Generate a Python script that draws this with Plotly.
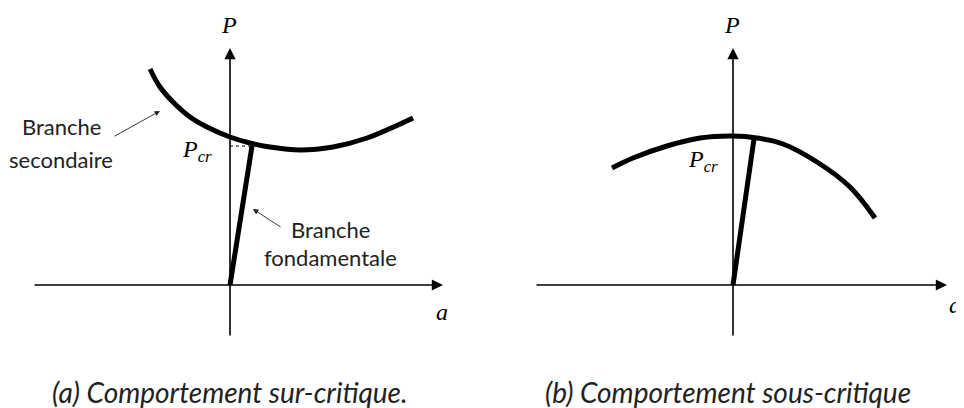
import plotly.graph_objects as go

# =====================
# DATA (a, P) in arbitrary units, origin at axes crossing
# =====================
# (a) sur-critique
sec_a_left = [-8.0, -7.0, -5.7, -4.0, -2.3, 0.0, 2.0, 4.0, 7.0, 10.3, 13.7, 18.3]
sec_P_left = [21.6, 19.8, 18.3, 16.8, 15.8, 14.8, 14.2, 13.8, 13.5, 13.8, 14.7, 16.7]
fund_a_left = [0.0, 2.2]
fund_P_left = [0.0, 13.9]
pcr_left = 13.9

# (b) sous-critique
sec_a_right = [-12.1, -10.0, -6.6, -3.3, 0.0, 2.4, 5.0, 8.4, 11.7, 14.2]
sec_P_right = [11.7, 12.7, 13.9, 14.7, 14.9, 14.7, 14.1, 12.3, 9.8, 6.7]
fund_a_right = [0.0, 2.1]
fund_P_right = [0.0, 14.6]

# axis extents [min, max]
a_axis_left = [-19.7, 21.3]
a_axis_right = [-19.8, 21.4]
P_axis = [-5.2, 23.7]

captions = ["(a) Comportement sur-critique.", "(b) Comportement sous-critique"]

# =====================
# FIGURE
# =====================
fig = go.Figure()
thick = dict(color="black", width=5)

fig.add_trace(go.Scatter(x=sec_a_left, y=sec_P_left, mode="lines", line=dict(shape="spline", **thick),
                         xaxis="x", yaxis="y"))
fig.add_trace(go.Scatter(x=fund_a_left, y=fund_P_left, mode="lines", line=thick, xaxis="x", yaxis="y"))
fig.add_trace(go.Scatter(x=[0, fund_a_left[1] - 0.2], y=[pcr_left, pcr_left], mode="lines",
                         line=dict(color="black", width=1, dash="3px,3px"), xaxis="x", yaxis="y"))

fig.add_trace(go.Scatter(x=sec_a_right, y=sec_P_right, mode="lines", line=dict(shape="spline", **thick),
                         xaxis="x2", yaxis="y2"))
fig.add_trace(go.Scatter(x=fund_a_right, y=fund_P_right, mode="lines", line=thick, xaxis="x2", yaxis="y2"))

serif = dict(family="Liberation Serif", size=24, color="black")
sans = dict(family="Lato", size=22, color="#222")
ann = []


def axis_arrow(xr, yr, x, y, ax, ay):
    return dict(xref=xr, yref=yr, axref=xr, ayref=yr, x=x, y=y, ax=ax, ay=ay, text="",
                showarrow=True, arrowhead=2, arrowsize=1.4, arrowwidth=1.6, arrowcolor="black", standoff=0)


for xr, yr, a_ax, pcr_pos, a_pos in [("x", "y", a_axis_left, (-3.3, 13.4), (21.2, -2.7)),
                                     ("x2", "y2", a_axis_right, (-3.0, 12.4), (22.2, -2.0))]:
    ann.append(axis_arrow(xr, yr, a_ax[1], 0, a_ax[0], 0))
    ann.append(axis_arrow(xr, yr, 0, P_axis[1], 0, P_axis[0]))
    ann.append(dict(xref=xr, yref=yr, x=-0.1, y=26.0, text="<i>P</i>", showarrow=False, font=serif))
    ann.append(dict(xref=xr, yref=yr, x=a_pos[0], y=a_pos[1], text="<i>a</i>", showarrow=False, font=serif))
    ann.append(dict(xref=xr, yref=yr, x=pcr_pos[0], y=pcr_pos[1],
                    text="<i>P</i><sub><i>cr</i></sub>", showarrow=False, font=serif))

# branch labels (left panel), one annotation per line
for txt, px, py in [("Branche", -16.9, 15.9), ("secondaire", -16.9, 12.6),
                    ("Branche", 10.0, 5.6), ("fondamentale", 10.0, 2.8)]:
    ann.append(dict(xref="x", yref="y", x=px, y=py, text=txt, showarrow=False, font=sans))
ann.append(dict(xref="x", yref="y", axref="x", ayref="y", x=-7.0, y=17.4, ax=-11.7, ay=14.8, text="",
                showarrow=True, arrowhead=2, arrowsize=1.2, arrowwidth=0.9, arrowcolor="#222", standoff=0))
ann.append(dict(xref="x", yref="y", axref="x", ayref="y", x=2.3, y=7.6, ax=5.2, ay=5.7, text="",
                showarrow=True, arrowhead=2, arrowsize=1.2, arrowwidth=0.9, arrowcolor="#222", standoff=0))

# captions
for cx, txt in zip([0.2317, 0.7531], captions):
    ann.append(dict(xref="paper", yref="paper", x=cx, y=0.04, xanchor="center", yanchor="middle",
                    text="<i>" + txt + "</i>", showarrow=False,
                    font=dict(family="Lato", size=28, color="#222")))

hidden = dict(visible=False, showgrid=False, zeroline=False)
# figure is 956x400 so it sits inside the page's 8 px body margin; 1 unit = 10 px
split = 474 / 956
fig.update_layout(
    width=956, height=400,
    margin=dict(l=0, r=0, t=0, b=0),
    paper_bgcolor="white", plot_bgcolor="white",
    showlegend=False,
    xaxis=dict(domain=[0, split], range=[-22.2, 25.2], **hidden),
    yaxis=dict(domain=[0, 1], range=[-12.3, 27.7], **hidden),
    xaxis2=dict(domain=[split, 1], range=[-25.1, 23.1], anchor="y2", **hidden),
    yaxis2=dict(domain=[0, 1], range=[-12.3, 27.7], anchor="x2", **hidden),
    annotations=ann,
)

fig.write_html("out.html")
